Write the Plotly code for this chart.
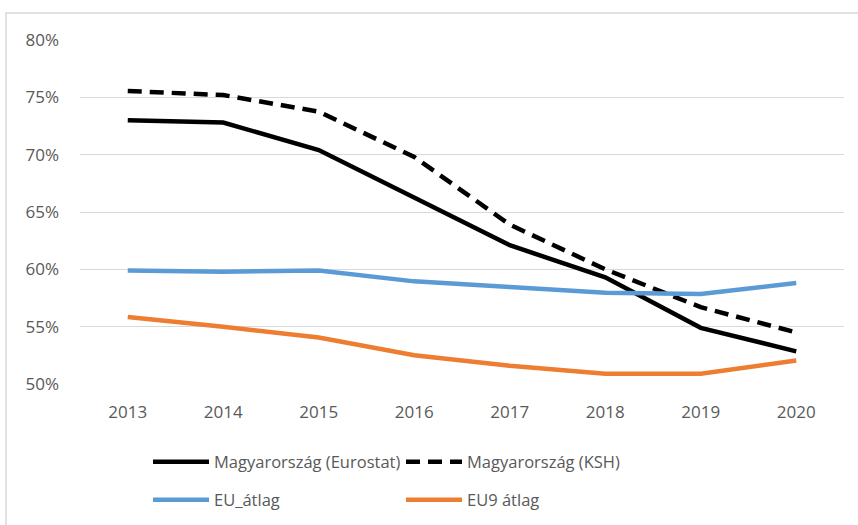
import plotly.graph_objects as go

years = ["2013", "2014", "2015", "2016", "2017", "2018", "2019", "2020"]
hu_eurostat = [73.0, 72.8, 70.4, 66.2, 62.1, 59.3, 54.9, 52.85]
hu_ksh = [75.55, 75.2, 73.75, 69.8, 63.9, 60.0, 56.7, 54.5]
eu_avg = [59.9, 59.8, 59.9, 58.95, 58.45, 57.95, 57.85, 58.8]
eu9_avg = [55.85, 55.0, 54.05, 52.5, 51.6, 50.9, 50.9, 52.05]

names = ["Magyarország (Eurostat)", "Magyarország (KSH)", "EU_átlag", "EU9 átlag"]
series = [hu_eurostat, hu_ksh, eu_avg, eu9_avg]
colors = ["#000000", "#000000", "#5B9BD5", "#ED7D31"]
dashes = ["solid", "14px,8px", "solid", "solid"]
legends = ["legend", "legend", "legend2", "legend2"]

fig = go.Figure()
for n, s, c, d, lg in zip(names, series, colors, dashes, legends):
    fig.add_trace(go.Scatter(
        x=years, y=[v / 100 for v in s], name=n, mode="lines",
        line=dict(color=c, width=4.5, dash=d), legend=lg,
    ))

W, H = 858, 525
L, R, T, B = 80, 14, 40, 141
pw, ph = W - L - R, H - T - B

leg_common = dict(orientation="h", x=(148 - L) / pw, xanchor="left",
                  yref="container", yanchor="middle",
                  entrywidth=182, entrywidthmode="pixels",
                  font=dict(size=16.5, color="#595959"), itemwidth=56,
                  bgcolor="rgba(0,0,0,0)")

fig.update_layout(
    width=W, height=H,
    margin=dict(l=L, r=R, t=T, b=B, autoexpand=False),
    paper_bgcolor="white", plot_bgcolor="white",
    font=dict(family="Open Sans", size=16, color="#595959"),
    xaxis=dict(type="category", showgrid=False, showline=False, ticks="",
               tickfont=dict(size=17), range=[-0.5, 7.5], ticklabelstandoff=16),
    yaxis=dict(range=[0.5, 0.8], dtick=0.05, tickformat=".0%",
               gridcolor="#D9D9D9", gridwidth=1, zeroline=False, showline=False,
               tickfont=dict(size=17), ticklabelstandoff=20),
    legend=dict(y=(H - 462) / H, **leg_common),
    legend2=dict(y=(H - 500) / H, **leg_common),
    showlegend=True,
)

# outer chart border (light gray)
fig.add_shape(type="rect", xref="paper", yref="paper",
              x0=(6 - L) / pw, x1=(W + 10 - L) / pw,
              y0=-(H + 10 - T - ph) / ph, y1=1 + (T - 13) / ph,
              line=dict(color="#D9D9D9", width=1.5), fillcolor="rgba(0,0,0,0)",
              layer="below")

fig.write_html("out.html", config={"displayModeBar": False},
               post_script="document.body.style.margin='0';")
